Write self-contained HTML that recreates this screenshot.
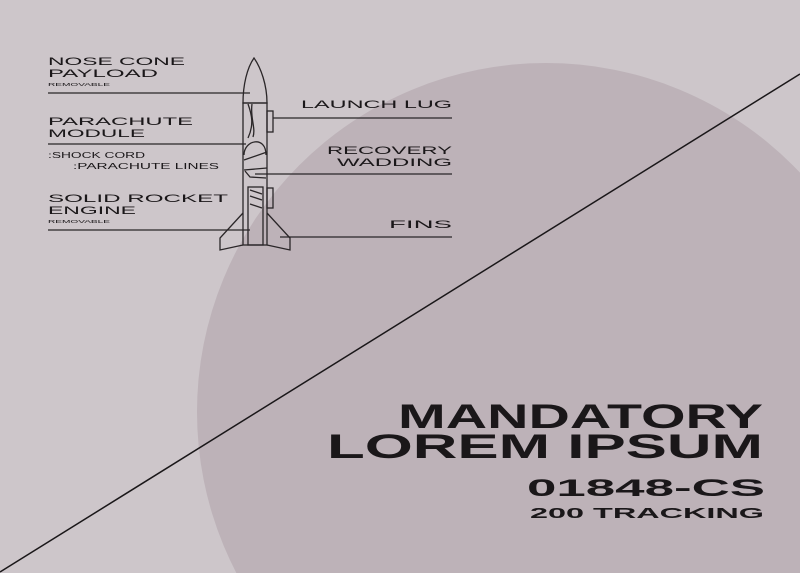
<!DOCTYPE html>
<html><head><meta charset="utf-8"><style>
html,body{margin:0;padding:0;background:#cdc6ca;width:800px;height:573px;overflow:hidden;}
svg{display:block;}
text{font-family:"Liberation Sans",sans-serif;fill:#1a1719;}
</style></head><body>
<svg width="800" height="573" viewBox="0 0 800 573" xmlns="http://www.w3.org/2000/svg">
<rect width="800" height="573" fill="#cdc6ca"/>
<circle cx="546" cy="412" r="349" fill="#bdb2b8"/>
<line x1="0" y1="572" x2="800" y2="74" stroke="#1a1719" stroke-width="1.5"/>

<g fill="none" stroke="#2a2628" stroke-width="1.3">
<path d="M243,103 C243,85 247,68 254,58 C261,68 267,85 267,103 Z"/>
<rect x="243" y="103" width="24" height="142"/>
<rect x="267" y="111" width="6" height="21"/>
<rect x="267" y="188" width="6" height="20"/>
<rect x="248" y="187" width="15" height="58"/>
<path d="M243,213 L220,238 L220,250 L243,245"/>
<path d="M267,213 L290,238 L290,250 L267,245"/>
<path d="M248,104 C252,115 254,125 248,138"/>
<path d="M252,104 C250,118 256,128 253,137"/>
<path d="M244,155 C244,140 266,135 266,155"/>
<path d="M244,160 L267,152"/>
<path d="M244,170 L267,168"/>
<path d="M245,171 L250,177 L266,178"/>
<path d="M250,190 L262,194 M250,196 L262,200 M250,204 L262,208"/>
</g>

<g stroke="#2a2628" stroke-width="1.3">
<line x1="48" y1="93" x2="250" y2="93"/>
<line x1="48" y1="144" x2="246" y2="144"/>
<line x1="48" y1="230" x2="250" y2="230"/>
<line x1="273" y1="118" x2="452" y2="118"/>
<line x1="255" y1="174" x2="452" y2="174"/>
<line x1="280" y1="237" x2="452" y2="237"/>
</g>

<g font-size="11">
<text x="48" y="65" textLength="137" lengthAdjust="spacingAndGlyphs">NOSE CONE</text>
<text x="48" y="77" textLength="110" lengthAdjust="spacingAndGlyphs">PAYLOAD</text>
<text x="48" y="125" textLength="145" lengthAdjust="spacingAndGlyphs">PARACHUTE</text>
<text x="48" y="137" textLength="97" lengthAdjust="spacingAndGlyphs">MODULE</text>
<text x="48" y="202" textLength="180" lengthAdjust="spacingAndGlyphs">SOLID ROCKET</text>
<text x="48" y="214" textLength="88" lengthAdjust="spacingAndGlyphs">ENGINE</text>
<text x="301" y="108" textLength="151" lengthAdjust="spacingAndGlyphs">LAUNCH LUG</text>
<text x="327" y="154" textLength="125" lengthAdjust="spacingAndGlyphs">RECOVERY</text>
<text x="337" y="166" textLength="115" lengthAdjust="spacingAndGlyphs">WADDING</text>
<text x="389" y="228" textLength="63" lengthAdjust="spacingAndGlyphs">FINS</text>
</g>
<g font-size="8">
<text x="48" y="158" textLength="97" lengthAdjust="spacingAndGlyphs">:SHOCK CORD</text>
<text x="73" y="169" textLength="146" lengthAdjust="spacingAndGlyphs">:PARACHUTE LINES</text>
</g>
<g font-size="4.5">
<text x="48" y="86" textLength="62" lengthAdjust="spacingAndGlyphs">REMOVABLE</text>
<text x="48" y="223" textLength="62" lengthAdjust="spacingAndGlyphs">REMOVABLE</text>
</g>

<g font-weight="bold">
<text x="398" y="428" font-size="34" textLength="365" lengthAdjust="spacingAndGlyphs">MANDATORY</text>
<text x="327" y="458" font-size="34" textLength="436" lengthAdjust="spacingAndGlyphs">LOREM IPSUM</text>
<text x="527" y="496" font-size="24" textLength="238" lengthAdjust="spacingAndGlyphs">01848-CS</text>
<text x="530" y="518" font-size="15" textLength="234" lengthAdjust="spacingAndGlyphs">200 TRACKING</text>
</g>
</svg>
</body></html>
